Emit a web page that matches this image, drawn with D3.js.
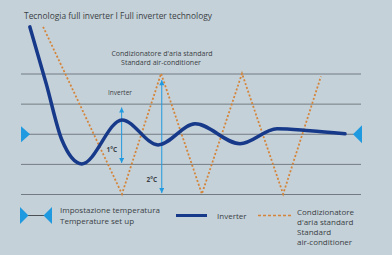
<!DOCTYPE html>
<html>
<head>
<meta charset="utf-8">
<script src="https://cdn.jsdelivr.net/npm/d3@7"></script>
<style>
	body { margin: 0; background: #c5d1d9; }
	svg { display: block; font-family: "Open Sans", "DejaVu Sans", sans-serif; }
</style>
</head>
<body>
<script>
// temperature levels drawn as grid lines (°C around the set point)
var gridLevels = [ 2, 1, 0, -1, -2 ];

// standard on/off air-conditioner, zig-zag
var standardTime = [ 6.5, 29.7, 41.2, 53.2, 65, 77.1, 88.2 ];
var standardTemp = [ 3.55, -2, 2, -2, 2, -2, 1.9 ];

// inverter, damped wave
var inverterTime = [ 2.6, 7.4, 12, 17.9, 29.7, 40.3, 51.2, 64.4, 75.3, 85, 95.3 ];
var inverterTemp = [ 3.55, 1.67, -0.2, -1.0, 0.46, -0.37, 0.33, -0.33, 0.17, 0.1, 0.0 ];

// span arrows
var spanLabels = [ '1°C', '2°C' ];
var spanTime = [ 29.6, 41.4 ];
var spanFrom = [ -0.97, -1.97 ];
var spanTo = [ 0.87, 1.78 ];
var spanLabelTemp = [ -0.53, -1.53 ];

var width = 392;
var height = 255;

var colors = {
	grid: '#737b82',
	inverter: '#17398a',
	standard: '#d4853a',
	accent: '#1f9ae0',
	text: '#3a3f44'
};

var svg = d3.select( 'body' ).append( 'svg' )
	.attr( 'width', width )
	.attr( 'height', height );

var scales = {};
scales.x = d3.scaleLinear().domain( [ 0, 100 ] ).range( [ 21, 361 ] );
scales.y = d3.scaleLinear().domain( [ -2, 2 ] ).range( [ 194, 73.5 ] );

// title
svg.append( 'text' )
	.attr( 'x', 24 )
	.attr( 'y', 18.5 )
	.attr( 'font-size', 9.5 )
	.attr( 'textLength', 188 )
	.attr( 'lengthAdjust', 'spacingAndGlyphs' )
	.attr( 'fill', colors.text )
	.text( 'Tecnologia full inverter I Full inverter technology' );

// grid
svg.append( 'g' ).selectAll( 'line' )
	.data( gridLevels )
	.enter().append( 'line' )
	.attr( 'x1', scales.x( 0 ) )
	.attr( 'x2', scales.x( 100 ) )
	.attr( 'y1', function ( d ) { return scales.y( d ) + 0.5; } )
	.attr( 'y2', function ( d ) { return scales.y( d ) + 0.5; } )
	.attr( 'stroke', colors.grid )
	.attr( 'stroke-width', 1 );

// labels inside chart
svg.append( 'text' )
	.attr( 'x', 162 ).attr( 'y', 55.5 )
	.attr( 'text-anchor', 'middle' )
	.attr( 'font-size', 7 )
	.attr( 'fill', colors.text )
	.text( "Condizionatore d'aria standard" );
svg.append( 'text' )
	.attr( 'x', 161 ).attr( 'y', 65 )
	.attr( 'text-anchor', 'middle' )
	.attr( 'font-size', 7 )
	.attr( 'fill', colors.text )
	.text( 'Standard air-conditioner' );
svg.append( 'text' )
	.attr( 'x', 108 ).attr( 'y', 95 )
	.attr( 'font-size', 6.5 )
	.attr( 'fill', colors.text )
	.text( 'Inverter' );

var standardData = standardTime.map( function ( t, i ) {
	return { x: t, y: standardTemp[i] };
} );
var inverterData = inverterTime.map( function ( t, i ) {
	return { x: t, y: inverterTemp[i] };
} );

var straight = d3.line()
	.x( function ( d ) { return scales.x( d.x ); } )
	.y( function ( d ) { return scales.y( d.y ); } );

var smooth = d3.line()
	.curve( d3.curveMonotoneX )
	.x( function ( d ) { return scales.x( d.x ); } )
	.y( function ( d ) { return scales.y( d.y ); } );

svg.append( 'path' )
	.datum( standardData )
	.attr( 'd', straight )
	.attr( 'fill', 'none' )
	.attr( 'stroke', colors.standard )
	.attr( 'stroke-width', 1.8 )
	.attr( 'stroke-dasharray', '2,2' );

// arrow markers
var defs = svg.append( 'defs' );
defs.append( 'marker' )
	.attr( 'id', 'head' )
	.attr( 'markerUnits', 'userSpaceOnUse' )
	.attr( 'viewBox', '0 0 10 10' )
	.attr( 'refX', 10 ).attr( 'refY', 5 )
	.attr( 'markerWidth', 6 ).attr( 'markerHeight', 5 )
	.attr( 'orient', 'auto-start-reverse' )
	.append( 'path' )
	.attr( 'd', 'M0,0L10,5L0,10Z' )
	.attr( 'fill', colors.accent );

svg.append( 'g' ).selectAll( 'line' )
	.data( spanTime )
	.enter().append( 'line' )
	.attr( 'x1', function ( d ) { return scales.x( d ); } )
	.attr( 'x2', function ( d ) { return scales.x( d ); } )
	.attr( 'y1', function ( d, i ) { return scales.y( spanFrom[i] ); } )
	.attr( 'y2', function ( d, i ) { return scales.y( spanTo[i] ); } )
	.attr( 'stroke', colors.accent )
	.attr( 'stroke-width', 1 )
	.attr( 'marker-start', 'url(#head)' )
	.attr( 'marker-end', 'url(#head)' );

svg.append( 'path' )
	.datum( inverterData )
	.attr( 'd', smooth )
	.attr( 'fill', 'none' )
	.attr( 'stroke', colors.inverter )
	.attr( 'stroke-width', 3.5 )
	.attr( 'stroke-linecap', 'round' );

svg.append( 'g' ).selectAll( 'text' )
	.data( spanLabels )
	.enter().append( 'text' )
	.attr( 'x', function ( d, i ) { return scales.x( spanTime[i] ) - 4.5; } )
	.attr( 'y', function ( d, i ) { return scales.y( spanLabelTemp[i] ) + 2.5; } )
	.attr( 'text-anchor', 'end' )
	.attr( 'font-size', 6.5 )
	.attr( 'font-weight', 'bold' )
	.attr( 'fill', colors.text )
	.text( function ( d ) { return d; } );

// set point triangles
var y0 = scales.y( 0 ) + 0.5;
svg.append( 'path' )
	.attr( 'd', 'M' + scales.x( 0 ) + ',' + ( y0 - 8 ) + 'l9,8l-9,8Z' )
	.attr( 'fill', colors.accent );
svg.append( 'path' )
	.attr( 'd', 'M' + ( scales.x( 100 ) + 1 ) + ',' + ( y0 - 9 ) + 'l-9,9l9,9Z' )
	.attr( 'fill', colors.accent );

// legend
var legend = svg.append( 'g' ).attr( 'font-size', 8 ).attr( 'fill', colors.text );
var ly = 215.5;
legend.append( 'line' )
	.attr( 'x1', 26 ).attr( 'x2', 45 )
	.attr( 'y1', ly ).attr( 'y2', ly )
	.attr( 'stroke', '#4a5056' ).attr( 'stroke-width', 1 );
legend.append( 'path' )
	.attr( 'd', 'M20,' + ( ly - 8.5 ) + 'l8.5,8.5l-8.5,8.5Z' )
	.attr( 'fill', colors.accent );
legend.append( 'path' )
	.attr( 'd', 'M52,' + ( ly - 8.5 ) + 'l-8.5,8.5l8.5,8.5Z' )
	.attr( 'fill', colors.accent );
legend.append( 'text' ).attr( 'x', 60 ).attr( 'y', 213 ).text( 'Impostazione temperatura' );
legend.append( 'text' ).attr( 'x', 60 ).attr( 'y', 224 ).text( 'Temperature set up' );

legend.append( 'line' )
	.attr( 'x1', 176 ).attr( 'x2', 207 )
	.attr( 'y1', ly ).attr( 'y2', ly )
	.attr( 'stroke', colors.inverter ).attr( 'stroke-width', 3 );
legend.append( 'text' ).attr( 'x', 217 ).attr( 'y', 218.5 ).text( 'Inverter' );

legend.append( 'line' )
	.attr( 'x1', 258 ).attr( 'x2', 291 )
	.attr( 'y1', ly ).attr( 'y2', ly )
	.attr( 'stroke', colors.standard ).attr( 'stroke-width', 1.5 )
	.attr( 'stroke-dasharray', '3,2' );
var stdLegend = [ 'Condizionatore', "d'aria standard", 'Standard', 'air-conditioner' ];
legend.selectAll( '.std' )
	.data( stdLegend )
	.enter().append( 'text' )
	.attr( 'class', 'std' )
	.attr( 'x', 297 )
	.attr( 'y', function ( d, i ) { return 214.5 + i * 10; } )
	.text( function ( d ) { return d; } );
</script>
</body>
</html>
